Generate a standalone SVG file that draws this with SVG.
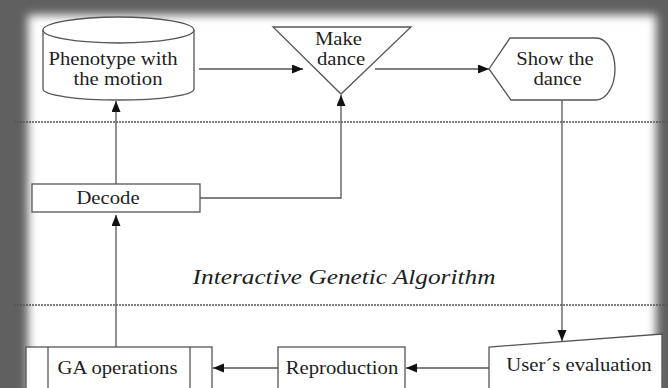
<svg xmlns="http://www.w3.org/2000/svg" width="668" height="388" viewBox="0 0 668 388">
<defs>
<filter id="soft" x="-10%" y="-10%" width="120%" height="120%"><feGaussianBlur stdDeviation="5"/></filter>
<marker id="ah" markerUnits="userSpaceOnUse" markerWidth="11" markerHeight="10" refX="11" refY="4.5" orient="auto"><path d="M0,0 L11,4.5 L0,9 Z" fill="#111"/></marker>
<style>
.s{fill:#fff;stroke:#555;stroke-width:1.3}
.c{fill:none;stroke:#555;stroke-width:1.3}
.t{font-family:'Liberation Serif',serif;font-size:18px;fill:#1e1e1e;text-anchor:middle}
.i{font-style:italic;font-size:22px}
.d{fill:none;stroke:#555;stroke-width:1.3;stroke-dasharray:2 1}
</style>
</defs>
<rect x="0" y="0" width="668" height="388" fill="#606060"/>
<rect x="28" y="15" width="628" height="420" fill="#fff" filter="url(#soft)"/>
<g id="lanes">
<line class="d" x1="14" y1="122" x2="668" y2="122"/>
<line class="d" x1="14" y1="305" x2="668" y2="305"/>
<text class="t i" transform="translate(344,284) scale(1.15,1)">Interactive Genetic Algorithm</text>
</g>
<g id="connectors">
<line class="c" x1="199" y1="69" x2="303" y2="69" marker-end="url(#ah)"/>
<line class="c" x1="375" y1="69" x2="489" y2="69" marker-end="url(#ah)"/>
<line class="c" x1="562" y1="100" x2="562" y2="341" marker-end="url(#ah)"/>
<line class="c" x1="489" y1="368" x2="406" y2="368" marker-end="url(#ah)"/>
<line class="c" x1="278" y1="368" x2="213" y2="368" marker-end="url(#ah)"/>
<line class="c" x1="116" y1="347" x2="116" y2="215" marker-end="url(#ah)"/>
<line class="c" x1="116" y1="184" x2="116" y2="101" marker-end="url(#ah)"/>
<polyline class="c" points="200,198 341,198 341,95" marker-end="url(#ah)"/>
</g>
<g id="phenotype">
<path class="s" d="M43,30 L43,89 A75.5,11 0 0 0 194,89 L194,30"/>
<ellipse class="s" cx="118.5" cy="30" rx="75.5" ry="13"/>
<text class="t" transform="translate(113,65) scale(1.15,1)">Phenotype with</text>
<text class="t" transform="translate(118,85) scale(1.15,1)">the motion</text>
</g>
<g id="make-dance">
<path class="s" d="M273,27 L411,27 L341,94 Z"/>
<text class="t" transform="translate(338.5,45) scale(1.15,1)">Make</text>
<text class="t" transform="translate(341,65) scale(1.15,1)">dance</text>
</g>
<g id="show-dance">
<path class="s" d="M489,69 L510,38 L596,38 A19,31 0 0 1 596,100 L511,100 Z"/>
<text class="t" transform="translate(555,65) scale(1.15,1)">Show the</text>
<text class="t" transform="translate(557.5,85) scale(1.15,1)">dance</text>
</g>
<g id="decode">
<rect class="s" x="32" y="184" width="168" height="28"/>
<text class="t" transform="translate(108,204) scale(1.15,1)">Decode</text>
</g>
<g id="ga-operations">
<rect class="s" x="26" y="347" width="186" height="60"/>
<line class="c" x1="48" y1="347" x2="48" y2="407"/>
<line class="c" x1="190" y1="347" x2="190" y2="407"/>
<text class="t" transform="translate(117.5,374) scale(1.15,1)">GA operations</text>
</g>
<g id="reproduction">
<rect class="s" x="278" y="347" width="127" height="60"/>
<text class="t" transform="translate(342,374) scale(1.15,1)">Reproduction</text>
</g>
<g id="user-evaluation">
<path class="s" d="M489,400 L489,347 L662,334 L662,400"/>
<text class="t" transform="translate(579,371) scale(1.15,1)">User´s evaluation</text>
</g>
</svg>
